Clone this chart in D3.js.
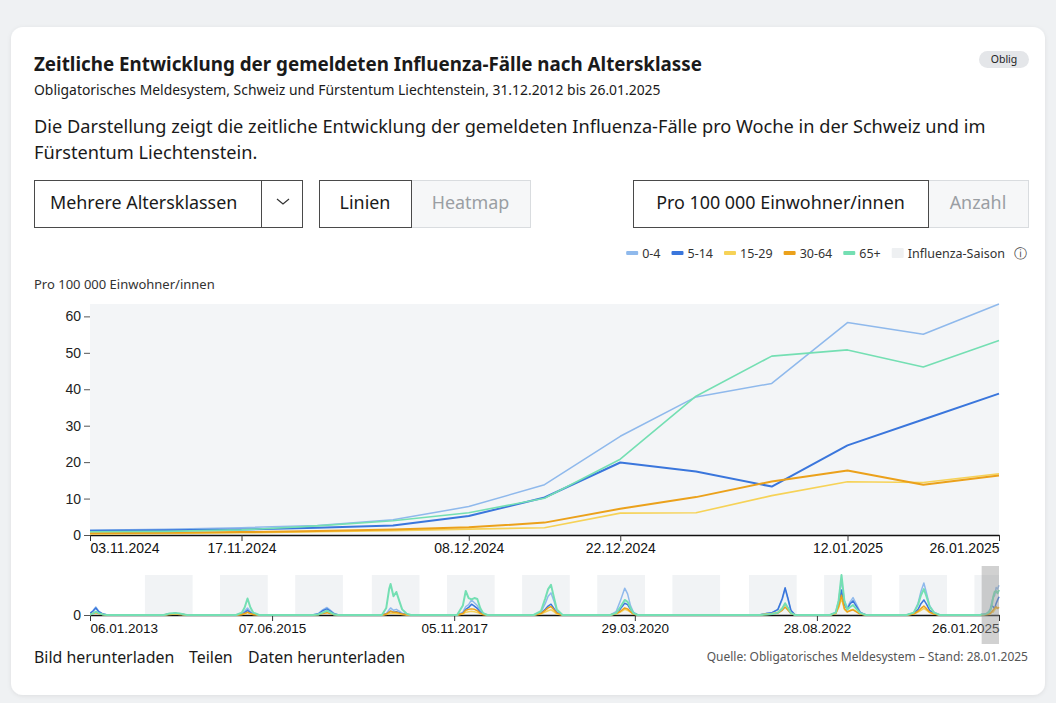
<!DOCTYPE html>
<html><head><meta charset="utf-8">
<script src="https://cdn.jsdelivr.net/npm/d3@7"></script>
<style>
body{margin:0;background:#eff1f3;}
svg{display:block;}
</style>
</head><body>
<svg id="c" width="1056" height="703"></svg>
<script>
// ---------------- DATA ----------------
const groups = ["0-4", "5-14", "15-29", "30-64", "65+"];
const groupColors = ["#8fb9ec", "#3a76dc", "#f6d257", "#eba11b", "#74dfb3"];

const weeks = ["2024-11-03","2024-11-10","2024-11-17","2024-11-24","2024-12-01","2024-12-08","2024-12-15",
               "2024-12-22","2024-12-29","2025-01-05","2025-01-12","2025-01-19","2025-01-26"];
const v0_4   = [1.3, 1.6, 2.0, 2.6, 4.2, 7.8, 13.8, 27.1, 37.9, 41.6, 58.3, 55.1, 63.4];
const v5_14  = [1.2, 1.3, 1.5, 2.0, 2.6, 5.2, 10.3, 19.9, 17.4, 13.3, 24.6, 31.7, 38.8];
const v15_29 = [0.3, 0.4, 0.6, 0.9, 1.2, 1.6, 2.0, 6.0, 6.1, 10.8, 14.6, 14.4, 16.8];
const v30_64 = [0.5, 0.6, 0.8, 1.1, 1.5, 2.1, 3.4, 7.2, 10.4, 14.7, 17.7, 13.8, 16.3];
const v65    = [0.9, 1.0, 1.4, 2.5, 3.9, 6.1, 10.1, 20.8, 38.1, 49.1, 50.8, 46.1, 53.4];

const mainTicks = ["2024-11-03","2024-11-17","2024-12-08","2024-12-22","2025-01-12","2025-01-26"];
const yTicks = [0, 10, 20, 30, 40, 50, 60];
const overviewTicks = ["2013-01-06","2015-06-07","2017-11-05","2020-03-29","2022-08-28","2025-01-26"];

const seasons = [
  ["2013-09-29","2014-05-18"],["2014-09-28","2015-05-17"],["2015-09-27","2016-05-15"],
  ["2016-10-02","2017-05-21"],["2017-10-01","2018-05-20"],["2018-09-30","2019-05-19"],
  ["2019-09-29","2020-05-17"],["2020-09-27","2021-05-16"],["2021-10-03","2022-05-22"],
  ["2022-10-02","2023-05-21"],["2023-10-01","2024-05-19"],["2024-09-29","2025-01-26"]
];

// history (overview) key weeks: [date, value]
const hist0_4 = [
 ["2013-01-06",4],["2013-01-20",9],["2013-02-03",17],["2013-02-17",8],["2013-03-10",2],["2013-03-31",0],
 ["2013-12-29",0],["2014-01-26",2],["2014-02-23",3],["2014-03-16",2],["2014-04-20",0],
 ["2014-12-14",0],["2015-01-11",3],["2015-01-25",8],["2015-02-08",15],["2015-02-22",7],["2015-03-08",3],["2015-04-05",0],
 ["2015-12-20",0],["2016-01-17",3],["2016-02-07",11],["2016-02-28",16],["2016-03-13",11],["2016-04-03",3],["2016-04-24",0],
 ["2016-11-20",0],["2016-12-11",3],["2016-12-25",11],["2017-01-01",15],["2017-01-15",10],["2017-01-29",12],["2017-02-12",8],["2017-02-26",4],["2017-03-19",1],["2017-04-09",0],
 ["2017-11-19",0],["2017-12-17",6],["2017-12-31",18],["2018-01-14",22],["2018-01-28",32],["2018-02-11",26],["2018-02-25",20],["2018-03-11",10],["2018-03-25",3],["2018-04-15",0],
 ["2018-11-25",0],["2018-12-30",6],["2019-01-20",24],["2019-02-03",40],["2019-02-17",47],["2019-03-03",30],["2019-03-17",10],["2019-04-14",0],
 ["2019-12-01",0],["2019-12-29",7],["2020-01-19",30],["2020-02-09",57],["2020-02-23",45],["2020-03-08",20],["2020-03-22",6],["2020-04-12",0],
 ["2021-11-21",0],["2021-12-26",3],["2022-01-23",5],["2022-02-20",11],["2022-03-13",33],["2022-03-27",55],["2022-04-10",33],["2022-04-24",9],["2022-05-15",0],
 ["2022-10-30",0],["2022-11-27",6],["2022-12-11",30],["2022-12-25",74],["2023-01-08",30],["2023-01-22",15],["2023-02-05",28],["2023-02-19",37],["2023-03-05",25],["2023-03-26",6],["2023-04-23",0],
 ["2023-11-05",0],["2023-12-10",5],["2023-12-31",25],["2024-01-14",50],["2024-01-28",68],["2024-02-11",45],["2024-02-25",20],["2024-03-17",6],["2024-04-14",0],
 ["2024-10-27",0]
];
const hist5_14 = [
 ["2013-01-06",3],["2013-01-20",8],["2013-02-03",15],["2013-02-17",7],["2013-03-10",2],["2013-03-31",0],
 ["2013-12-29",0],["2014-01-26",2],["2014-02-23",3],["2014-03-16",2],["2014-04-20",0],
 ["2014-12-14",0],["2015-01-11",2],["2015-01-25",5],["2015-02-08",10],["2015-02-22",5],["2015-03-08",2],["2015-04-05",0],
 ["2015-12-20",0],["2016-01-17",2],["2016-02-07",9],["2016-02-28",13],["2016-03-13",9],["2016-04-03",2],["2016-04-24",0],
 ["2016-11-20",0],["2016-12-11",2],["2016-12-25",6],["2017-01-01",8],["2017-01-15",6],["2017-01-29",7],["2017-02-12",5],["2017-02-26",2],["2017-03-19",1],["2017-04-09",0],
 ["2017-11-19",0],["2017-12-17",4],["2017-12-31",12],["2018-01-14",16],["2018-01-28",23],["2018-02-11",19],["2018-02-25",14],["2018-03-11",6],["2018-03-25",2],["2018-04-15",0],
 ["2018-11-25",0],["2018-12-30",3],["2019-01-20",12],["2019-02-03",19],["2019-02-17",23],["2019-03-03",14],["2019-03-17",5],["2019-04-14",0],
 ["2019-12-01",0],["2019-12-29",3],["2020-01-19",13],["2020-02-09",25],["2020-02-23",22],["2020-03-08",12],["2020-03-22",4],["2020-04-12",0],
 ["2021-11-21",0],["2021-12-26",3],["2022-01-23",5],["2022-02-20",12],["2022-03-13",35],["2022-03-27",58],["2022-04-10",35],["2022-04-24",10],["2022-05-15",0],
 ["2022-10-30",0],["2022-11-27",4],["2022-12-11",20],["2022-12-25",53],["2023-01-08",22],["2023-01-22",12],["2023-02-05",24],["2023-02-19",30],["2023-03-05",20],["2023-03-26",5],["2023-04-23",0],
 ["2023-11-05",0],["2023-12-10",3],["2023-12-31",12],["2024-01-14",24],["2024-01-28",32],["2024-02-11",22],["2024-02-25",10],["2024-03-17",3],["2024-04-14",0],
 ["2024-10-27",0]
];
const hist15_29 = [
 ["2013-01-06",1],["2013-01-20",3],["2013-02-03",5],["2013-02-17",3],["2013-03-10",1],["2013-03-31",0],
 ["2013-12-29",0],["2014-01-26",1],["2014-02-23",2],["2014-03-16",1],["2014-04-20",0],
 ["2014-12-14",0],["2015-01-11",1],["2015-01-25",2],["2015-02-08",5],["2015-02-22",2],["2015-03-08",1],["2015-04-05",0],
 ["2015-12-20",0],["2016-01-17",1],["2016-02-07",4],["2016-02-28",6],["2016-03-13",4],["2016-04-03",1],["2016-04-24",0],
 ["2016-11-20",0],["2016-12-11",1],["2016-12-25",3],["2017-01-01",4],["2017-01-15",3],["2017-01-29",3],["2017-02-12",2],["2017-02-26",1],["2017-03-19",0],["2017-04-09",0],
 ["2017-11-19",0],["2017-12-17",2],["2017-12-31",6],["2018-01-14",7],["2018-01-28",8],["2018-02-11",7],["2018-02-25",5],["2018-03-11",3],["2018-03-25",1],["2018-04-15",0],
 ["2018-11-25",0],["2018-12-30",2],["2019-01-20",6],["2019-02-03",9],["2019-02-17",11],["2019-03-03",7],["2019-03-17",2],["2019-04-14",0],
 ["2019-12-01",0],["2019-12-29",2],["2020-01-19",6],["2020-02-09",12],["2020-02-23",10],["2020-03-08",6],["2020-03-22",2],["2020-04-12",0],
 ["2021-11-21",0],["2021-12-26",2],["2022-01-23",3],["2022-02-20",6],["2022-03-13",15],["2022-03-27",23],["2022-04-10",14],["2022-04-24",4],["2022-05-15",0],
 ["2022-10-30",0],["2022-11-27",3],["2022-12-11",15],["2022-12-25",35],["2023-01-08",12],["2023-01-22",6],["2023-02-05",10],["2023-02-19",12],["2023-03-05",8],["2023-03-26",2],["2023-04-23",0],
 ["2023-11-05",0],["2023-12-10",2],["2023-12-31",6],["2024-01-14",10],["2024-01-28",14],["2024-02-11",10],["2024-02-25",5],["2024-03-17",2],["2024-04-14",0],
 ["2024-10-27",0]
];
const hist30_64 = [
 ["2013-01-06",1],["2013-01-20",3],["2013-02-03",5],["2013-02-17",3],["2013-03-10",1],["2013-03-31",0],
 ["2013-12-29",0],["2014-01-26",2],["2014-02-23",3],["2014-03-16",2],["2014-04-20",0],
 ["2014-12-14",0],["2015-01-11",1],["2015-01-25",3],["2015-02-08",6],["2015-02-22",3],["2015-03-08",1],["2015-04-05",0],
 ["2015-12-20",0],["2016-01-17",1],["2016-02-07",3],["2016-02-28",5],["2016-03-13",3],["2016-04-03",1],["2016-04-24",0],
 ["2016-11-20",0],["2016-12-11",2],["2016-12-25",6],["2017-01-01",8],["2017-01-15",6],["2017-01-29",6],["2017-02-12",4],["2017-02-26",2],["2017-03-19",1],["2017-04-09",0],
 ["2017-11-19",0],["2017-12-17",3],["2017-12-31",10],["2018-01-14",12],["2018-01-28",13],["2018-02-11",12],["2018-02-25",9],["2018-03-11",4],["2018-03-25",1],["2018-04-15",0],
 ["2018-11-25",0],["2018-12-30",3],["2019-01-20",10],["2019-02-03",15],["2019-02-17",18],["2019-03-03",11],["2019-03-17",4],["2019-04-14",0],
 ["2019-12-01",0],["2019-12-29",3],["2020-01-19",8],["2020-02-09",15],["2020-02-23",13],["2020-03-08",7],["2020-03-22",2],["2020-04-12",0],
 ["2021-11-21",0],["2021-12-26",1],["2022-01-23",2],["2022-02-20",4],["2022-03-13",10],["2022-03-27",17],["2022-04-10",10],["2022-04-24",3],["2022-05-15",0],
 ["2022-10-30",0],["2022-11-27",3],["2022-12-11",18],["2022-12-25",42],["2023-01-08",14],["2023-01-22",7],["2023-02-05",9],["2023-02-19",11],["2023-03-05",7],["2023-03-26",2],["2023-04-23",0],
 ["2023-11-05",0],["2023-12-10",2],["2023-12-31",8],["2024-01-14",14],["2024-01-28",19],["2024-02-11",13],["2024-02-25",6],["2024-03-17",2],["2024-04-14",0],
 ["2024-10-27",0]
];
const hist65 = [
 ["2013-01-06",1],["2013-01-20",3],["2013-02-03",7],["2013-02-17",4],["2013-03-10",1],["2013-03-31",0],
 ["2013-12-29",0],["2014-01-26",3],["2014-02-23",4],["2014-03-16",3],["2014-04-20",0],
 ["2014-12-14",0],["2015-01-11",5],["2015-01-25",16],["2015-02-08",35],["2015-02-22",16],["2015-03-08",5],["2015-04-05",0],
 ["2015-12-20",0],["2016-01-17",1],["2016-02-07",5],["2016-02-28",9],["2016-03-13",6],["2016-04-03",1],["2016-04-24",0],
 ["2016-11-20",0],["2016-12-11",15],["2016-12-25",55],["2017-01-01",66],["2017-01-15",40],["2017-01-29",49],["2017-02-12",30],["2017-02-26",12],["2017-03-19",3],["2017-04-09",0],
 ["2017-11-19",0],["2017-12-17",20],["2017-12-31",51],["2018-01-14",36],["2018-01-28",33],["2018-02-11",36],["2018-02-25",34],["2018-03-11",15],["2018-03-25",4],["2018-04-15",0],
 ["2018-11-25",0],["2018-12-30",8],["2019-01-20",35],["2019-02-03",55],["2019-02-17",64],["2019-03-03",38],["2019-03-17",12],["2019-04-14",0],
 ["2019-12-01",0],["2019-12-29",4],["2020-01-19",17],["2020-02-09",32],["2020-02-23",28],["2020-03-08",15],["2020-03-22",4],["2020-04-12",0],
 ["2021-11-21",0],["2021-12-26",1],["2022-01-23",2],["2022-02-20",5],["2022-03-13",14],["2022-03-27",25],["2022-04-10",15],["2022-04-24",4],["2022-05-15",0],
 ["2022-10-30",0],["2022-11-27",5],["2022-12-11",30],["2022-12-25",85],["2023-01-08",30],["2023-01-22",12],["2023-02-05",17],["2023-02-19",21],["2023-03-05",14],["2023-03-26",4],["2023-04-23",0],
 ["2023-11-05",0],["2023-12-10",5],["2023-12-31",22],["2024-01-14",42],["2024-01-28",55],["2024-02-11",38],["2024-02-25",18],["2024-03-17",5],["2024-04-14",0],
 ["2024-10-27",0]
];

// ---------------- BUILD ----------------
const parse = d3.timeParse("%Y-%m-%d");
const mainValues = [v0_4, v5_14, v15_29, v30_64, v65];
const histValues = [hist0_4, hist5_14, hist15_29, hist30_64, hist65];
const mainSeries = groups.map((g, i) => ({
  name: g, color: groupColors[i],
  points: weeks.map((w, j) => ({ date: parse(w), value: mainValues[i][j] }))
}));
const overviewSeries = groups.map((g, i) => ({
  name: g, color: groupColors[i],
  points: [{ date: parse("2012-12-30"), value: histValues[i][0][1] }]
    .concat(histValues[i].map(p => ({ date: parse(p[0]), value: p[1] })))
    .concat(mainSeries[i].points)
}));
const strokeW = [1.5, 2, 1.6, 2, 1.6];

const svg = d3.select("#c");
const UI = "'Noto Sans', 'Open Sans', sans-serif";
const AX = "'Liberation Sans', Arial, sans-serif";

// card
const defs = svg.append("defs");
const f = defs.append("filter").attr("id", "sh").attr("x", "-5%").attr("y", "-5%").attr("width", "110%").attr("height", "110%");
f.append("feDropShadow").attr("dx", 0).attr("dy", 1).attr("stdDeviation", 2).attr("flood-color", "#000").attr("flood-opacity", 0.08);
svg.append("rect").attr("x", 11).attr("y", 27).attr("width", 1034).attr("height", 668)
  .attr("rx", 12).attr("fill", "#fff").attr("filter", "url(#sh)");

// headings
svg.append("text").attr("x", 34).attr("y", 71).attr("font-family", UI).attr("font-weight", 700)
  .attr("font-size", 18.8).attr("fill", "#1a1a1a")
  .text("Zeitliche Entwicklung der gemeldeten Influenza-Fälle nach Altersklasse");
svg.append("text").attr("x", 34).attr("y", 95).attr("font-family", UI).attr("font-size", 13.9)
  .attr("fill", "#1a1a1a")
  .text("Obligatorisches Meldesystem, Schweiz und Fürstentum Liechtenstein, 31.12.2012 bis 26.01.2025");
svg.append("text").attr("x", 34).attr("y", 133).attr("font-family", UI).attr("font-size", 18.2)
  .attr("fill", "#1a1a1a")
  .text("Die Darstellung zeigt die zeitliche Entwicklung der gemeldeten Influenza-Fälle pro Woche in der Schweiz und im");
svg.append("text").attr("x", 34).attr("y", 159).attr("font-family", UI).attr("font-size", 18.2)
  .attr("fill", "#1a1a1a").text("Fürstentum Liechtenstein.");

// badge
svg.append("rect").attr("x", 979).attr("y", 51).attr("width", 50).attr("height", 17).attr("rx", 8.5).attr("fill", "#e4e6e9");
svg.append("text").attr("x", 1004).attr("y", 63).attr("text-anchor", "middle").attr("font-family", UI)
  .attr("font-size", 10.5).attr("fill", "#222").text("Oblig");

// controls
function box(x, w, label, active, opts = {}) {
  svg.append("rect").attr("x", x + 0.5).attr("y", 180.5).attr("width", w).attr("height", 47)
    .attr("fill", active ? "#fff" : "#f6f7f8").attr("stroke", active ? "#4a4a4a" : "#d9dcdf");
  svg.append("text").attr("x", opts.left ? x + 16 : x + w / 2).attr("y", 209)
    .attr("text-anchor", opts.left ? "start" : "middle").attr("font-family", UI).attr("font-size", 17.9)
    .attr("fill", active ? "#1a1a1a" : "#9a9ea3").text(label);
}
box(34, 268, "Mehrere Altersklassen", true, { left: true });
svg.append("line").attr("x1", 261.5).attr("x2", 261.5).attr("y1", 181).attr("y2", 228).attr("stroke", "#4a4a4a");
svg.append("path").attr("d", "M277,199 L283,204 L289,199").attr("fill", "none").attr("stroke", "#333").attr("stroke-width", 1.2);
box(411, 119, "Heatmap", false);
box(319, 92, "Linien", true);
box(928, 100, "Anzahl", false);
box(633, 295, "Pro 100 000 Einwohner/innen", true);

// legend (right aligned)
const legItems = groups.map((g, i) => ({ label: g, color: groupColors[i], type: "line" }))
  .concat([{ label: "Influenza-Saison", color: "#eef0f2", type: "season" }]);
const leg = svg.append("g");
let lx = 1027;
const info = leg.append("text").attr("y", 258).attr("font-family", UI).attr("font-size", 12.5)
  .attr("fill", "#444").attr("text-anchor", "end").attr("x", lx).text("ⓘ");
lx -= info.node().getComputedTextLength() + 9;
for (let i = legItems.length - 1; i >= 0; i--) {
  const it = legItems[i];
  const t = leg.append("text").attr("y", 258).attr("font-family", UI).attr("font-size", 12.5)
    .attr("fill", "#333").attr("text-anchor", "end").attr("x", lx).text(it.label);
  const tw = t.node().getComputedTextLength();
  const sx = lx - tw - 16;
  leg.append("rect").attr("x", sx).attr("y", it.type === "line" ? 251 : 248).attr("width", 12)
    .attr("height", it.type === "line" ? 4 : 10).attr("rx", 1).attr("fill", it.color);
  lx = sx - 11;
}

// y-axis title
svg.append("text").attr("x", 34).attr("y", 289).attr("font-family", UI).attr("font-size", 13)
  .attr("fill", "#333").text("Pro 100 000 Einwohner/innen");

// ---------------- MAIN CHART ----------------
const m = { left: 90, right: 999, top: 304, bottom: 535 };
const x = d3.scaleTime().domain(d3.extent(weeks, parse)).range([m.left, m.right]);
const yMax = d3.max(mainValues.flat());
const y = d3.scaleLinear().domain([0, yMax]).range([m.bottom, m.top]);

svg.append("rect").attr("x", m.left).attr("y", m.top).attr("width", m.right - m.left)
  .attr("height", m.bottom - m.top).attr("fill", "#f3f5f7");

const yAxis = svg.append("g").attr("transform", `translate(${m.left},0)`)
  .call(d3.axisLeft(y).tickValues(yTicks).tickSize(6).tickPadding(3));
yAxis.select(".domain").remove();
yAxis.selectAll(".tick line").attr("stroke", "#555");
yAxis.selectAll("text").attr("font-family", AX).attr("font-size", 14).attr("fill", "#222");

const xAxis = svg.append("g").attr("transform", `translate(0,${m.bottom})`)
  .call(d3.axisBottom(x).tickValues(mainTicks.map(parse)).tickFormat(d3.timeFormat("%d.%m.%Y")).tickSize(6).tickSizeOuter(0).tickPadding(2));
xAxis.select(".domain").attr("stroke", "#111").attr("stroke-width", 1.5);
xAxis.selectAll(".tick line").attr("stroke", "#333");
xAxis.selectAll("text").attr("font-family", AX).attr("font-size", 14).attr("fill", "#111");
const mt = xAxis.selectAll(".tick text").nodes();
d3.select(mt[0]).attr("text-anchor", "start");
d3.select(mt[mt.length - 1]).attr("text-anchor", "end");

defs.append("clipPath").attr("id", "clipMain").append("rect")
  .attr("x", m.left).attr("y", m.top - 2).attr("width", m.right - m.left + 1).attr("height", m.bottom - m.top + 2);
const line = d3.line().x(d => x(d.date)).y(d => y(d.value));
svg.append("g").attr("clip-path", "url(#clipMain)").selectAll("path").data(mainSeries).join("path")
  .attr("d", d => line(d.points)).attr("fill", "none").attr("stroke", d => d.color)
  .attr("stroke-width", (d, i) => strokeW[i]).attr("stroke-linejoin", "round");

// ---------------- OVERVIEW ----------------
const o = { left: 90, right: 999, top: 575, bottom: 615 };
const ox = d3.scaleTime().domain([parse("2013-01-06"), parse("2025-01-26")]).range([o.left, o.right]);
const oMax = d3.max(overviewSeries.flatMap(s => s.points.map(p => p.value)));
const oy = d3.scaleLinear().domain([0, oMax]).range([o.bottom, o.top]);

defs.append("clipPath").attr("id", "clipOv").append("rect")
  .attr("x", o.left).attr("y", o.top - 3).attr("width", o.right - o.left + 1).attr("height", o.bottom - o.top + 4);

svg.append("g").selectAll("rect").data(seasons).join("rect")
  .attr("x", d => ox(parse(d[0]))).attr("width", d => Math.min(ox(parse(d[1])), o.right) - ox(parse(d[0])))
  .attr("y", o.top).attr("height", o.bottom - o.top).attr("fill", "#f1f3f5");

const oyAxis = svg.append("g").attr("transform", `translate(${o.left},0)`)
  .call(d3.axisLeft(oy).tickValues([0]).tickSize(6).tickPadding(3));
oyAxis.select(".domain").remove();
oyAxis.selectAll(".tick line").attr("stroke", "#555");
oyAxis.selectAll("text").attr("font-family", AX).attr("font-size", 14).attr("fill", "#222");

const oxAxis = svg.append("g").attr("transform", `translate(0,${o.bottom})`)
  .call(d3.axisBottom(ox).tickValues(overviewTicks.map(parse)).tickFormat(d3.timeFormat("%d.%m.%Y")).tickSize(6).tickSizeOuter(0).tickPadding(2));
oxAxis.select(".domain").attr("stroke", "#111").attr("stroke-width", 1.5);
oxAxis.selectAll(".tick line").attr("stroke", "#333");
oxAxis.selectAll("text").attr("font-family", AX).attr("font-size", 13.5).attr("fill", "#111");
const ot = oxAxis.selectAll(".tick text").nodes();
d3.select(ot[0]).attr("text-anchor", "start");
d3.select(ot[ot.length - 1]).attr("text-anchor", "end");

const oline = d3.line().x(d => ox(d.date)).y(d => oy(d.value));
svg.append("g").attr("clip-path", "url(#clipOv)").selectAll("path").data(overviewSeries).join("path")
  .attr("d", d => oline(d.points)).attr("fill", "none").attr("stroke", d => d.color)
  .attr("stroke-width", (d, i) => i === 4 ? 2 : 1.5).attr("stroke-linejoin", "round");

// brush selection
const bx0 = ox(parse(weeks[0])), bx1 = ox(parse(weeks[weeks.length - 1]));
svg.append("rect").attr("x", bx0).attr("y", 566).attr("width", bx1 - bx0).attr("height", 78)
  .attr("fill", "#9a9a9a").attr("fill-opacity", 0.45);

// footer
[["Bild herunterladen", 34], ["Teilen", 189], ["Daten herunterladen", 248]].forEach(([t, xx]) =>
  svg.append("text").attr("x", xx).attr("y", 663).attr("font-family", UI).attr("font-size", 15.9)
    .attr("fill", "#1a1a1a").text(t));
svg.append("text").attr("x", 1028).attr("y", 661).attr("text-anchor", "end").attr("font-family", UI)
  .attr("font-size", 12).attr("fill", "#555")
  .text("Quelle: Obligatorisches Meldesystem – Stand: 28.01.2025");
</script>
</body></html>
